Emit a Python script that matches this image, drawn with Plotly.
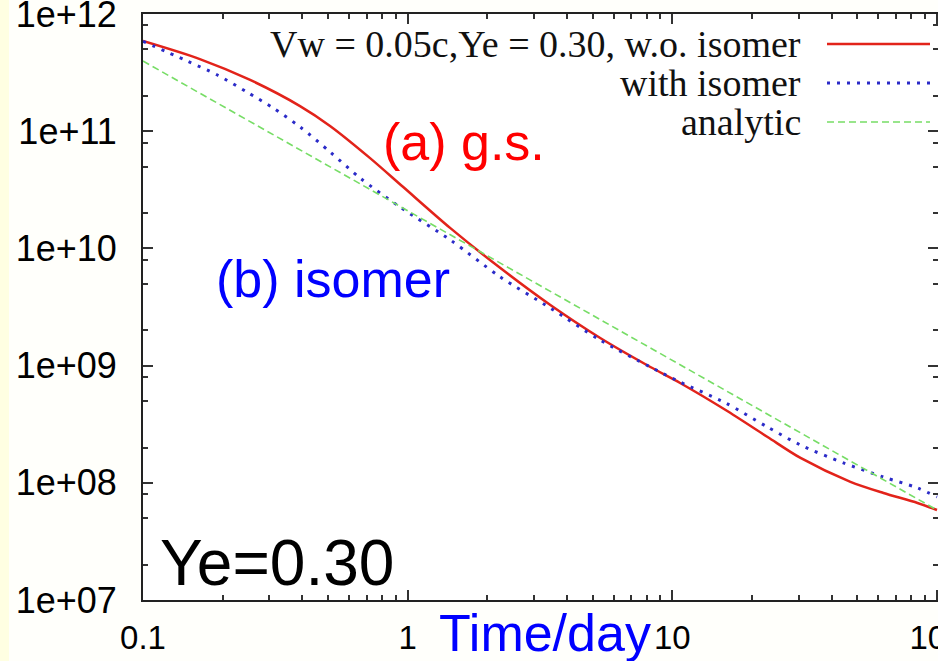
import plotly.graph_objects as go

# Light curve (arbitrary units) versus time in days, Vw = 0.05c, Ye = 0.30
t_gs = [0.1, 0.164, 0.254, 0.392, 0.509, 0.721, 0.962, 1.45, 2.24, 3.46,
        5.34, 8.26, 10.7, 15.9, 22.9, 30.5, 47.1, 62.8, 84.4, 100]
l_gs = [5.89e11, 4.13e11, 2.74e11, 1.64e11, 1.11e11, 5.90e10, 3.34e10, 1.49e10,
        6.80e9, 3.29e9, 1.72e9, 9.73e8, 7.11e8, 4.18e8, 2.46e8, 1.63e8,
        1.02e8, 8.19e7, 6.73e7, 5.86e7]

t_iso = [0.1, 0.147, 0.191, 0.247, 0.310, 0.392, 0.509, 0.661, 0.937, 1.45,
         2.24, 3.46, 5.34, 8.26, 10.7, 15.9, 22.9, 30.5, 44.3, 62.8, 84.4, 100]
l_iso = [5.85e11, 3.97e11, 3.02e11, 2.16e11, 1.58e11, 1.09e11, 6.66e10, 3.99e10,
         2.25e10, 1.18e10, 5.70e9, 3.10e9, 1.65e9, 9.73e8, 7.24e8, 4.80e8,
         2.99e8, 2.10e8, 1.48e8, 1.12e8, 9.04e7, 7.57e7]

t_ana = [0.1, 0.2, 0.5, 1, 2, 5, 10, 20, 50, 100]
l_ana = [3.97e11, 1.64e11, 5.08e10, 2.10e10, 8.67e9, 2.69e9, 1.11e9, 4.58e8,
         1.42e8, 5.86e7]

y_tickvals = [1e7, 1e8, 1e9, 1e10, 1e11, 1e12]
y_ticktext = ["1e+07", "1e+08", "1e+09", "1e+10", "1e+11", "1e+12"]
x_tickvals = [0.1, 1, 10, 100]
x_ticktext = ["0.1", "1", "10", "100"]

legend_labels = ["Vw = 0.05c,Ye = 0.30, w.o. isomer", "with isomer", "analytic"]

RED = "#E2231A"
BLUE = "#2B2BC8"
GREEN = "#77DD66"

W, H = 938, 661
L, R, T, B = 143, 0, 14, 61
PW, PH = W - L - R, H - T - B
X_RANGE = [-1, 2.0038]
Y_RANGE = [7, 12.0004]


def px(x):
    return (x - L) / PW


def py(y):
    return (H - B - y) / PH


fig = go.Figure()
fig.add_trace(go.Scatter(x=t_gs, y=l_gs, mode="lines", line_shape="spline",
                         line=dict(color=RED, width=2.5, smoothing=0.8), showlegend=False))
fig.add_trace(go.Scatter(x=t_iso, y=l_iso, mode="lines", line_shape="spline",
                         line=dict(color=BLUE, width=3, dash="3px,7px", smoothing=0.8),
                         showlegend=False))
fig.add_trace(go.Scatter(x=t_ana, y=l_ana, mode="lines",
                         line=dict(color=GREEN, width=1.6, dash="7px,4px"), showlegend=False))
# carrier for the right-hand tick axis
fig.add_trace(go.Scatter(x=[t_ana[0]], y=[l_ana[0]], yaxis="y2", mode="markers",
                         marker=dict(opacity=0), hoverinfo="skip", showlegend=False))

x_minor = [m * d for d in (0.1, 1, 10) for m in range(2, 10)]
y_minor = [m * d for d in (1e7, 1e8, 1e9, 1e10, 1e11) for m in (2, 5, 8)]

TICK = dict(ticks="inside", ticklen=10, tickwidth=2, tickcolor="#333333")
MINOR_STYLE = dict(ticks="inside", ticklen=5, tickwidth=1.5, tickcolor="#333333")
LABEL_FONT = dict(family="Liberation Sans, Arial", color="black")

fig.update_layout(
    xaxis=dict(type="log", range=X_RANGE, tickmode="array", tickvals=x_tickvals,
               ticktext=x_ticktext, ticklabelstandoff=7, ticklabeloverflow="allow",
               automargin=False,
               showline=True, linecolor="#222222", linewidth=2, mirror="ticks",
               showgrid=False, zeroline=False, tickfont=dict(size=33, **LABEL_FONT),
               minor=dict(tickmode="array", tickvals=x_minor, **MINOR_STYLE), **TICK),
    yaxis=dict(type="log", range=Y_RANGE, tickmode="array", tickvals=y_tickvals,
               ticktext=y_ticktext, ticklabelstandoff=17, ticklabeloverflow="allow",
               automargin=False,
               showline=True, linecolor="#222222", linewidth=2, mirror=False,
               showgrid=False, zeroline=False, tickfont=dict(size=36, **LABEL_FONT),
               minor=dict(tickmode="array", tickvals=y_minor, **MINOR_STYLE), **TICK),
    yaxis2=dict(type="log", range=Y_RANGE, overlaying="y", side="right", anchor="x",
                tickmode="array", tickvals=y_tickvals, showticklabels=False,
                automargin=False,
                showline=False, showgrid=False, zeroline=False,
                minor=dict(tickmode="array", tickvals=y_minor, **MINOR_STYLE), **TICK),
)

shapes = [
    # pale strip along the left edge of the page
    dict(type="rect", xref="paper", yref="paper", x0=px(0), x1=px(9), y0=py(H), y1=py(0),
         fillcolor="#FFFFE2", line=dict(width=0), layer="below"),
]
annotations = []

# key: right-aligned labels followed by line samples
row_y = [44, 83, 122]
styles = [dict(color=RED, width=2.5), dict(color=BLUE, width=3, dash="3px,7px"),
          dict(color=GREEN, width=1.6, dash="7px,4px")]
for lab, yy, st in zip(legend_labels, row_y, styles):
    annotations.append(dict(x=px(803), y=py(yy), xref="paper", yref="paper", text=lab,
                            showarrow=False, xanchor="right", yanchor="middle",
                            font=dict(family="Liberation Serif, Times New Roman", size=38,
                                      color="#111111")))
    shapes.append(dict(type="line", xref="paper", yref="paper", x0=px(827), x1=px(930),
                       y0=py(yy), y1=py(yy), line=st))

annotations += [
    dict(x=px(464), y=py(142), xref="paper", yref="paper", text="(a) g.s.", showarrow=False,
         xanchor="center", yanchor="middle",
         font=dict(family="Liberation Sans, Arial", size=52, color="#FF0000")),
    dict(x=px(333), y=py(279), xref="paper", yref="paper", text="(b) isomer", showarrow=False,
         xanchor="center", yanchor="middle",
         font=dict(family="Liberation Sans, Arial", size=52, color="#0000FF")),
    dict(x=px(158), y=py(563), xref="paper", yref="paper", text="Ye=0.30", showarrow=False,
         xanchor="left", yanchor="middle",
         font=dict(family="Liberation Sans, Arial", size=64, color="black")),
    dict(x=px(545), y=py(633), xref="paper", yref="paper", text="Time/day", showarrow=False,
         xanchor="center", yanchor="middle",
         font=dict(family="Liberation Sans, Arial", size=52, color="#0000FF")),
]

fig.update_layout(width=W, height=H,
                  margin=dict(l=L, r=R, t=T, b=B, pad=0, autoexpand=False),
                  paper_bgcolor="#FFFFFB", plot_bgcolor="white",
                  shapes=shapes, annotations=annotations, showlegend=False)

fig.write_html("out.html")
